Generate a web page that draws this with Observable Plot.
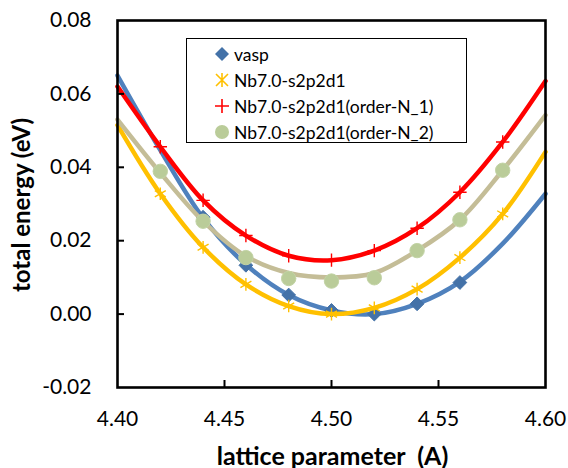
<!DOCTYPE html>
<html>
<head>
<meta charset="utf-8">
<script src="https://cdn.jsdelivr.net/npm/d3@7"></script>
<script src="https://cdn.jsdelivr.net/npm/@observablehq/plot@0.6"></script>
<style>
  body { margin: 0; background: #fff; }
  #wrap { position: relative; width: 568px; height: 468px; font-family: Lato, "Open Sans", sans-serif; }
  #legend { position: absolute; left: 186px; top: 38px; width: 281px; height: 105px; border: 1.5px solid #000; background: #fff; box-sizing: border-box; }
  .item { position: absolute; left: 25px; height: 26px; display: flex; align-items: center; font-size: 17.5px; color: #000; white-space: pre; }
  .item svg { width: 20px; height: 20px; margin-right: 2px; }
</style>
</head>
<body>
<div id="wrap"></div>
<script>
// x positions of the smooth curves and of the markers
const curveX = [4.40, 4.42, 4.44, 4.46, 4.48, 4.50, 4.52, 4.54, 4.56, 4.58, 4.60];
const vaspCurve  = [0.0650, 0.0447, 0.0262, 0.0135, 0.0052, 0.0010, 0.0000, 0.0028, 0.0088, 0.0192, 0.0328];
const s2p2d1Curve = [0.0515, 0.0328, 0.0182, 0.0081, 0.0022, 0.0000, 0.0017, 0.0068, 0.0154, 0.0273, 0.0442];
const orderN1Curve = [0.0620, 0.0456, 0.0310, 0.0214, 0.0159, 0.0147, 0.0173, 0.0234, 0.0332, 0.0469, 0.0635];
const orderN2Curve = [0.0530, 0.0385, 0.0253, 0.0158, 0.0112, 0.0100, 0.0112, 0.0173, 0.0257, 0.0392, 0.0542];

const vaspX = [4.44, 4.46, 4.48, 4.50, 4.52, 4.54, 4.56];
const vaspPts = [0.0264, 0.0133, 0.0052, 0.0010, 0.0000, 0.0028, 0.0086];
const ptsX = [4.42, 4.44, 4.46, 4.48, 4.50, 4.52, 4.54, 4.56, 4.58];
const s2p2d1Pts = [0.0328, 0.0182, 0.0081, 0.0022, 0.0000, 0.0017, 0.0068, 0.0154, 0.0273];
const orderN1Pts = [0.0456, 0.0310, 0.0214, 0.0159, 0.0147, 0.0173, 0.0234, 0.0332, 0.0469];
const orderN2Pts = [0.0389, 0.0253, 0.0154, 0.0097, 0.0090, 0.0099, 0.0173, 0.0257, 0.0392];

const seriesNames = ["vasp", "Nb7.0-s2p2d1", "Nb7.0-s2p2d1(order-N_1)", "Nb7.0-s2p2d1(order-N_2)"];
const xTicks = [4.40, 4.45, 4.50, 4.55, 4.60];
const yTicks = [-0.02, 0.00, 0.02, 0.04, 0.06, 0.08];
const xTitle = "lattice parameter\u00a0 (A)";
const yTitle = "total energy (eV)";

const toRows = (xs, ys) => xs.map((x, i) => ({x, y: ys[i]}));

const lineColors = ["#4F81BD", "#FFC000", "#FF0000", "#C4BD97"];
const curveData = [vaspCurve, s2p2d1Curve, orderN1Curve, orderN2Curve].map(c => toRows(curveX, c));
const ptData = [toRows(vaspX, vaspPts), toRows(ptsX, s2p2d1Pts), toRows(ptsX, orderN1Pts), toRows(ptsX, orderN2Pts)];

const font = "Lato, 'Open Sans', sans-serif";
const line = (i) => Plot.line(curveData[i], {x: "x", y: "y", stroke: lineColors[i], strokeWidth: 4.5, curve: "catmull-rom"});

const chart = Plot.plot({
  width: 568, height: 468,
  marginLeft: 117, marginRight: 23, marginTop: 20, marginBottom: 81,
  style: {fontFamily: font, background: "#fff", color: "#000"},
  x: {domain: [4.40, 4.60]},
  y: {domain: [-0.02, 0.08]},
  marks: [
    // series 1: vasp
    line(0),
    Plot.dot(ptData[0], {x: "x", y: "y", symbol: "diamond2", r: 6.2, fill: "#4472A8", stroke: "#4472A8", strokeWidth: 1}),
    // series 2
    line(1),
    Plot.dot(ptData[1], {x: "x", y: "y", symbol: "asterisk", r: 6, stroke: "#FFC000", strokeWidth: 1.4}),
    // series 3
    line(2),
    Plot.dot(ptData[2], {x: "x", y: "y", symbol: "plus", r: 4.4, stroke: "#FF0000", strokeWidth: 1.4}),
    // series 4
    line(3),
    Plot.dot(ptData[3], {x: "x", y: "y", symbol: "circle", r: 7.2, fill: "#BACC99", stroke: "#C2D3A5", strokeWidth: 1}),
    // frame and inner ticks
    Plot.frame({stroke: "#000", strokeWidth: 2.6}),
    Plot.axisY({ticks: [0.00, 0.02, 0.04, 0.06], anchor: "left", tickSize: 7, dx: 7, text: null, label: null, strokeWidth: 2}),
    Plot.axisX({ticks: [4.45, 4.50, 4.55], anchor: "bottom", tickSize: 7, dy: -7, text: null, label: null, strokeWidth: 2}),
    // tick labels
    Plot.axisY({ticks: yTicks, anchor: "left", tickSize: 0, tickPadding: 26, tickFormat: d => d.toFixed(2), fontSize: 21, label: null}),
    Plot.axisX({ticks: xTicks, anchor: "bottom", tickSize: 0, tickPadding: 24, tickFormat: d => d.toFixed(2), fontSize: 21, label: null}),
    // titles
    Plot.text([yTitle], {frameAnchor: "left", text: d => d, rotate: -90, dx: -95, dy: 1, fontSize: 24, fontWeight: "bold", textAnchor: "middle", lineAnchor: "middle"}),
    Plot.text([xTitle], {frameAnchor: "bottom", text: d => d, dy: 69, dx: 1, fontSize: 25, fontWeight: "bold", textAnchor: "middle", lineAnchor: "middle"})
  ]
});

const wrap = document.getElementById("wrap");
wrap.appendChild(chart);

// legend (inside the plot area, as in the reference)
const legend = document.createElement("div");
legend.id = "legend";
const glyphs = [
  `<svg viewBox="-10 -10 20 20"><path d="M0,-7L7,0L0,7L-7,0Z" fill="#4472A8"/></svg>`,
  `<svg viewBox="-10 -10 20 20"><path d="M0,-7V7M-6,-6L6,6M-6,6L6,-6" stroke="#FFC000" stroke-width="1.6" fill="none"/></svg>`,
  `<svg viewBox="-10 -10 20 20"><path d="M0,-7V7M-7,0H7" stroke="#FF0000" stroke-width="1.6" fill="none"/></svg>`,
  `<svg viewBox="-10 -10 20 20"><circle r="7" fill="#BACC99"/></svg>`
];
seriesNames.forEach((name, i) => {
  const item = document.createElement("div");
  item.className = "item";
  item.style.top = (2 + i * 26) + "px";
  item.innerHTML = glyphs[i] + "<span></span>";
  item.querySelector("span").textContent = name;
  legend.appendChild(item);
});
wrap.appendChild(legend);
</script>
</body>
</html>
